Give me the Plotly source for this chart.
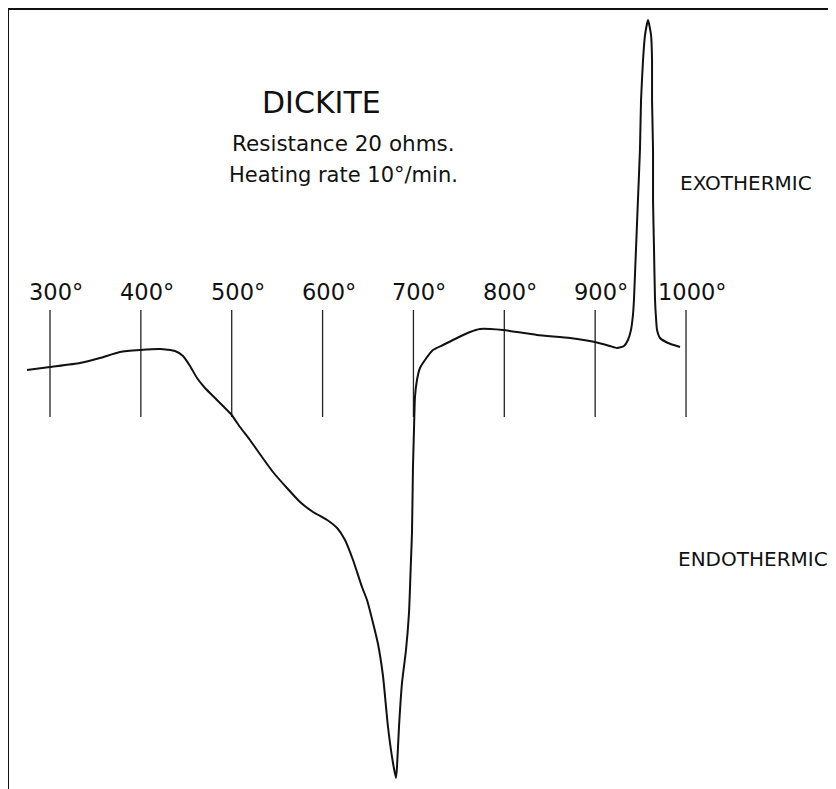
import plotly.graph_objects as go

# DTA curve of dickite: temperature (deg C) vs. deflection (arbitrary units, + = exothermic)
temperature = [274.7, 300.0, 333.0, 355.0, 377.0, 399.1, 421.1, 437.6, 446.4, 454.1,
               461.8, 470.6, 481.6, 490.4, 499.2, 509.1, 520.1, 533.3, 545.4, 560.8,
               575.2, 589.5, 605.0, 616.0, 624.7, 633.5, 643.4, 648.9, 655.5, 661.0,
               666.5, 672.0, 677.5, 680.8, 681.9, 684.1, 687.4, 691.8, 695.1, 697.3,
               698.4, 699.5, 700.6, 701.7, 703.9, 707.2, 712.7, 721.5, 732.5, 747.9,
               762.3, 773.3, 784.3, 798.6, 836.0, 872.3, 899.8, 916.3, 924.0, 931.7,
               936.1, 939.4, 941.6, 942.7, 944.9, 947.1, 949.3, 950.5, 952.7, 954.9,
               958.2, 961.5, 962.6, 962.6, 963.7, 963.7, 964.8, 965.9, 967.0, 968.1,
               971.4, 980.2, 993.4]
deflection = [-2.0, -1.7, -1.3, -0.8, -0.2, 0.0, 0.1, -0.1, -0.6, -1.6,
              -2.8, -3.8, -4.8, -5.6, -6.4, -7.7, -9.0, -10.7, -12.2, -13.8,
              -15.2, -16.2, -17.0, -17.8, -19.0, -21.0, -23.7, -25.0, -27.3, -29.4,
              -32.6, -37.7, -41.3, -42.8, -41.7, -37.7, -33.3, -30.0, -26.3, -21.0,
              -18.3, -11.7, -8.0, -4.7, -3.0, -1.8, -1.0, 0.0, 0.5, 1.2,
              1.8, 2.1, 2.1, 2.0, 1.5, 1.2, 0.8, 0.4, 0.2, 0.4,
              1.0, 2.0, 3.5, 5.0, 10.0, 15.0, 20.0, 25.0, 29.0, 31.5,
              33.0, 31.5, 29.0, 25.0, 20.0, 15.0, 10.0, 5.0, 3.2, 2.0,
              1.2, 0.7, 0.3]

tick_temps = [300, 400, 500, 600, 700, 800, 900, 1000]
tick_labels = ["300°", "400°", "500°", "600°", "700°", "800°", "900°", "1000°"]
tick_top, tick_bottom, label_level = 4.0, -6.7, 5.8

# page is shown with an 8px body margin: the figure is sized to fill the rest
PAGE_W, PAGE_H, OFF = 836, 789, 8
W, H = PAGE_W - OFF, PAGE_H - OFF
ML, MT = 1, 2                      # plot area starts at page x=9, y=10
PX0, PY0 = OFF + ML, OFF + MT


def paper(xp, yp):
    return (xp - PX0) / (PAGE_W - PX0), 1 - (yp - PY0) / (PAGE_H - PY0)


FONT = "DejaVu Sans"

fig = go.Figure()

tx, ty = [], []
for t in tick_temps:
    tx += [t, t, None]
    ty += [tick_top, tick_bottom, None]
fig.add_trace(go.Scatter(x=tx, y=ty, mode="lines",
                         line=dict(color="#222", width=1.3), hoverinfo="skip"))

fig.add_trace(go.Scatter(x=temperature, y=deflection, mode="lines",
                         line=dict(color="#111", width=2, shape="spline", smoothing=0.5)))

for t, lab in zip(tick_temps, tick_labels):
    fig.add_annotation(x=t, y=label_level, text=lab, showarrow=False,
                       xanchor="center", yanchor="middle", xshift=6,
                       font=dict(family=FONT, size=22.5, color="#111"))

texts = [
    ("DICKITE", 321, 103, 30),
    ("Resistance 20 ohms.", 343, 143, 21.5),
    ("Heating rate 10°/min.", 343, 175, 21),
    ("EXOTHERMIC", 746, 183, 20),
    ("ENDOTHERMIC", 753, 559, 20),
]
for txt, x, y, s in texts:
    ax, ay = paper(x, y)
    fig.add_annotation(x=ax, y=ay, xref="paper", yref="paper", text=txt,
                       showarrow=False, xanchor="center", yanchor="middle",
                       font=dict(family=FONT, size=s, color="#111"))

# axis ranges from the page-pixel scale: 100 deg = 90.86 px, 1 unit = 10 px
x0 = 300 + (PX0 - 50) * 1.1006
x1 = 300 + (PAGE_W - 50) * 1.1006
y0 = (350 - PAGE_H) / 10
y1 = (350 - PY0) / 10

fig.update_layout(
    width=W, height=H,
    margin=dict(l=ML, r=0, t=MT, b=0, pad=0),
    paper_bgcolor="white", plot_bgcolor="white",
    showlegend=False,
    xaxis=dict(range=[x0, x1], side="top", showline=True, linecolor="#111", linewidth=2,
               showticklabels=False, ticks="", showgrid=False, zeroline=False),
    yaxis=dict(range=[y0, y1], showline=True, linecolor="#111", linewidth=2,
               showticklabels=False, ticks="", showgrid=False, zeroline=False),
)

fig.write_html("out.html")
